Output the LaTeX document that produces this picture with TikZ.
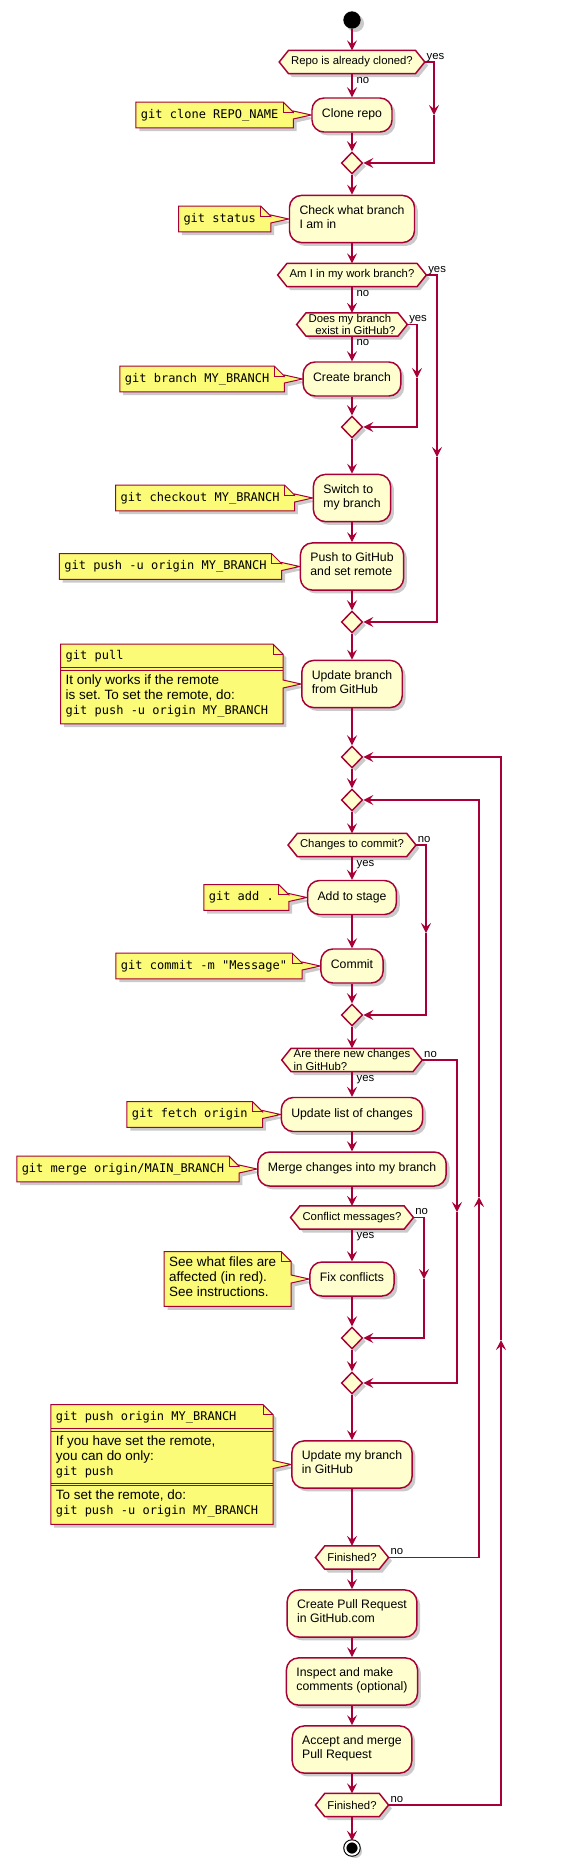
\documentclass[tikz,border=0pt]{standalone}
\usepackage{fontspec}
\setmainfont{Liberation Sans}
\newfontfamily\monofont{DejaVu Sans Mono}
\usetikzlibrary{arrows.meta,positioning,shapes.geometric,shapes.multipart,shadows,backgrounds}
\definecolor{umlred}{HTML}{A80036}
\definecolor{actfill}{HTML}{FEFECE}
\definecolor{notefill}{HTML}{FBFB77}
\frenchspacing
\newcommand\cmd[1]{{\monofont\fontsize{9}{11.25}\selectfont #1}}
% hexagon round a decision node (its east/west anchors are the tips)
\newcommand\hexpath[1]{\draw[hexline] (#1.west) -- ([xshift=7pt]#1.north west) -- ([xshift=-7pt]#1.north east) -- (#1.east) -- ([xshift=-7pt]#1.south east) -- ([xshift=7pt]#1.south west) -- cycle;}
% note outline with folded corner and pointer to the activity
\newcommand\notepath[2]{%
\draw[noteline] (#1.north west) -- (#1.north east) -- ([xshift=7.5pt,yshift=-7.5pt]#1.north east) -- ([xshift=7.5pt,yshift=3pt]#1.east) -- (#2.west) -- ([xshift=7.5pt,yshift=-3pt]#1.east) -- ([xshift=7.5pt]#1.south east) -- (#1.south west) -- cycle;
\draw[umlred, line width=0.75pt] (#1.north east) |- ([xshift=7.5pt,yshift=-7.5pt]#1.north east);}
\tikzset{
  umlshadow/.style={drop shadow={shadow xshift=2.5pt, shadow yshift=-2.5pt, opacity=0.35, fill=black!60}},
  act/.style={draw=umlred, fill=actfill, line width=1.1pt, rounded corners=9pt, align=left,
    inner xsep=7.5pt, inner ysep=7.4pt, font=\fontsize{9.2}{10.7}\selectfont,
    execute at begin node=\strut, execute at end node=\strut, umlshadow},
  decide/.style={align=left, font=\fontsize{8.5}{9.5}\selectfont, minimum height=17.5pt,
    inner xsep=2pt, inner ysep=0.5pt, outer xsep=7pt, outer ysep=0pt},
  hexline/.style={draw=umlred, fill=actfill, line width=1.1pt, umlshadow},
  joint/.style={diamond, draw=umlred, fill=actfill, line width=1.1pt, minimum width=16pt,
    minimum height=16.5pt, inner sep=0pt, umlshadow},
  note/.style={font=\fontsize{10.1}{11.25}\selectfont, align=left, inner xsep=3.75pt,
    inner ysep=4pt, outer sep=0pt, execute at begin node=\strut, execute at end node=\strut},
  splitnote/.style={note, rectangle split, rectangle split part align=left, inner ysep=3.5pt},
  noteline/.style={draw=umlred, fill=notefill, line width=0.75pt, umlshadow},
  flow/.style={draw=umlred, line width=0.9pt, -{Stealth[length=7.5pt, width=7.5pt, inset=3pt]}},
  lbl/.style={font=\fontsize{8.5}{9.5}\selectfont, inner sep=0pt},
  sidelbl/.style={lbl, anchor=base west, xshift=1pt, yshift=2pt},
  downlbl/.style={lbl, anchor=north west, xshift=3pt, yshift=-2pt},
  startdot/.style={circle, fill=black, minimum size=13pt, inner sep=0pt, umlshadow},
  stopdot/.style={circle, fill=black, draw=black, line width=0.8pt, double=white,
    double distance=1.5pt, minimum size=10pt, inner sep=0pt, umlshadow}
}
\begin{document}
\begin{tikzpicture}[x=0.75pt, y=-0.75pt]
\useasboundingbox (0,0) rectangle (582,1868);
% main column
\node[startdot] (start) at (352,20) {};
\node[decide] (d1) at (352,62) {Repo is already cloned?};
\node[act] (clone) at (352,115) {Clone repo};
\node[joint] (m1) at (352,163) {};
\node[act] (check) at (352,219) {Check what branch\\I am in};
\node[decide] (d2) at (352,275) {Am I in my work branch?};
\node[decide] (d3) at (352,324.5) {Does my branch\\\hspace*{5pt}exist in GitHub?};
\node[act] (create) at (352,379) {Create branch};
\node[joint] (m2) at (352,427) {};
\node[act] (switch) at (352,498) {Switch to\\my branch};
\node[act] (push) at (352,566.5) {Push to GitHub\\and set remote};
\node[joint] (m3) at (352,622) {};
\node[act] (pull) at (352,684) {Update branch\\from GitHub};
\node[joint] (m4) at (352,757) {};
\node[joint] (m5) at (352,800) {};
\node[decide] (d4) at (352,845) {Changes to commit?};
\node[act] (add) at (352,897.5) {Add to stage};
\node[act] (commit) at (352,966) {Commit};
\node[joint] (m6) at (352,1015) {};
\node[decide] (d5) at (352,1060) {Are there new changes\\in GitHub?};
\node[act] (fetch) at (352,1114.5) {Update list of changes};
\node[act] (merge) at (352,1169) {Merge changes into my branch};
\node[decide] (d6) at (352,1217.5) {Conflict messages?};
\node[act] (fix) at (352,1279) {Fix conflicts};
\node[joint] (m7) at (352,1338) {};
\node[joint] (m8) at (352,1383) {};
\node[act] (upd) at (352,1464.5) {Update my branch\\in GitHub};
\node[decide] (d7) at (352,1557.5) {Finished?};
\node[act] (pr) at (352,1613.5) {Create Pull Request\\in GitHub.com};
\node[act] (insp) at (352,1681.5) {Inspect and make\\comments (optional)};
\node[act] (acc) at (352,1749.5) {Accept and merge\\Pull Request};
\node[decide] (d8) at (352,1805) {Finished?};
\node[stopdot] (stop) at (352,1848) {};
% notes
\node[note, left=21pt of clone] (nclone) {\cmd{git clone REPO\_NAME}};
\node[note, left=21pt of check] (ncheck) {\cmd{git status}};
\node[note, left=21pt of create] (ncreate) {\cmd{git branch MY\_BRANCH}};
\node[note, left=21pt of switch] (nswitch) {\cmd{git checkout MY\_BRANCH}};
\node[note, left=21pt of push] (npush) {\cmd{git push -u origin MY\_BRANCH}};
\node[splitnote, rectangle split parts=2, left=21pt of pull] (npull)
  {\cmd{git pull}\strut\nodepart{two}\strut It only works if the remote\\is set. To set the remote, do:\\\cmd{git push -u origin MY\_BRANCH}};
\node[note, left=21pt of add] (nadd) {\cmd{git add .}};
\node[note, left=21pt of commit] (ncommit) {\cmd{git commit -m "Message"}};
\node[note, left=21pt of fetch] (nfetch) {\cmd{git fetch origin}};
\node[note, left=21pt of merge] (nmerge) {\cmd{git merge origin/MAIN\_BRANCH}};
\node[note, left=21pt of fix] (nfix) {See what files are\\affected (in red).\\See instructions.};
\node[splitnote, rectangle split parts=3, left=21pt of upd] (nupd)
  {\cmd{git push origin MY\_BRANCH}\strut\nodepart{two}\strut If you have set the remote,\\you can do only:\\\cmd{git push}\strut
   \nodepart{three}\strut To set the remote, do:\\\cmd{git push -u origin MY\_BRANCH}};
% straight flow
\foreach \a/\b in {start/d1, clone/m1, m1/check, check/d2, create/m2, m2/switch, switch/push,
  push/m3, m3/pull, pull/m4, m4/m5, m5/d4, add/commit, commit/m6, m6/d5, fetch/merge,
  merge/d6, fix/m7, m7/m8, m8/upd, upd/d7, d7/pr, pr/insp, insp/acc, acc/d8, d8/stop}
  \draw[flow] (\a) -- (\b);
\draw[flow] (d1.south) node[downlbl] {no} -- (clone);
\draw[flow] (d2.south) node[downlbl] {no} -- (d3);
\draw[flow] (d3.south) node[downlbl] {no} -- (create);
\draw[flow] (d4.south) node[downlbl] {yes} -- (add);
\draw[flow] (d5.south) node[downlbl] {yes} -- (fetch);
\draw[flow] (d6.south) node[downlbl] {yes} -- (fix);
% side branches and loops
\coordinate (y1) at (434,115);
\coordinate (y2) at (437,457);
\coordinate (y3) at (417,378);
\coordinate (y4) at (426,933);
\coordinate (y5) at (457,1212);
\coordinate (y6) at (424,1279);
\coordinate (y7) at (479,1197);
\coordinate (y8) at (501,1340);
\draw[flow] (d1.east) node[sidelbl] {yes} -| (y1);
\draw[flow] (y1) |- (m1.east);
\draw[flow] (d2.east) node[sidelbl] {yes} -| (y2);
\draw[flow] (y2) |- (m3.east);
\draw[flow] (d3.east) node[sidelbl] {yes} -| (y3);
\draw[flow] (y3) |- (m2.east);
\draw[flow] (d4.east) node[sidelbl] {no} -| (y4);
\draw[flow] (y4) |- (m6.east);
\draw[flow] (d5.east) node[sidelbl] {no} -| (y5);
\draw[flow] (y5) |- (m8.east);
\draw[flow] (d6.east) node[sidelbl] {no} -| (y6);
\draw[flow] (y6) |- (m7.east);
\draw[flow] (d7.east) node[sidelbl] {no} -| (y7);
\draw[flow] (y7) |- (m5.east);
\draw[flow] (d8.east) node[sidelbl] {no} -| (y8);
\draw[flow] (y8) |- (m4.east);
% separators in notes
\foreach \s in {1,-1} {
  \draw[umlred, line width=0.6pt] ([yshift=\s pt]npull.text split west) -- ([xshift=7.5pt,yshift=\s pt]npull.text split east);
  \draw[umlred, line width=0.6pt] ([yshift=\s pt]nupd.text split west) -- ([xshift=7.5pt,yshift=\s pt]nupd.text split east);
  \draw[umlred, line width=0.6pt] ([yshift=\s pt]nupd.two split west) -- ([xshift=7.5pt,yshift=\s pt]nupd.two split east);
}
\begin{scope}[on background layer]
\foreach \h in {d1,d2,d3,d4,d5,d6,d7,d8} \hexpath{\h};
\foreach \n/\t in {nclone/clone, ncheck/check, ncreate/create, nswitch/switch, npush/push,
  npull/pull, nadd/add, ncommit/commit, nfetch/fetch, nmerge/merge, nfix/fix, nupd/upd}
  \notepath{\n}{\t};
\end{scope}
\end{tikzpicture}
\end{document}
